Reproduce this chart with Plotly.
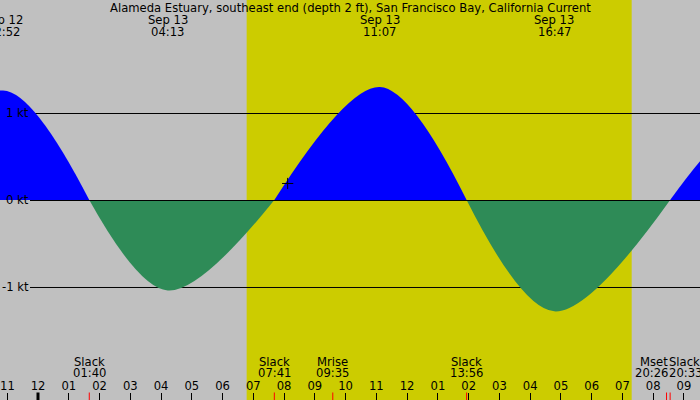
import plotly.graph_objects as go

# Alameda Estuary current, Sep 12-13 (times local)
x_start = "2024-09-12 22:45:53"
x_end = "2024-09-13 21:31:16"
sunrise = "2024-09-13 06:47"
sunset = "2024-09-13 19:18"
midnight = "2024-09-13 00:00"

# half-cycles (slack, max, slack), knots, flood positive
# first/last slack lie off the graph -> estimated
flood1_t = ["2024-09-12 19:40", "2024-09-12 22:52", "2024-09-13 01:40"]
flood1_kt = [0.0, 1.26, 0.0]
ebb1_t = ["2024-09-13 01:40", "2024-09-13 04:13", "2024-09-13 07:41"]
ebb1_kt = [0.0, -1.04, 0.0]
flood2_t = ["2024-09-13 07:41", "2024-09-13 11:07", "2024-09-13 13:56"]
flood2_kt = [0.0, 1.30, 0.0]
ebb2_t = ["2024-09-13 13:56", "2024-09-13 16:47", "2024-09-13 20:33"]
ebb2_kt = [0.0, -1.28, 0.0]
flood3_t = ["2024-09-13 20:33", "2024-09-13 23:35", "2024-09-14 02:30"]
flood3_kt = [0.0, 1.0, 0.0]

# max current labels at the top
max_t = ["2024-09-12 22:52", "2024-09-13 04:13", "2024-09-13 11:07", "2024-09-13 16:47"]
max_day = ["Sep 12", "Sep 13", "Sep 13", "Sep 13"]
max_lbl = ["22:52", "04:13", "11:07", "16:47"]

# events at the bottom
ev_t = ["2024-09-13 01:40", "2024-09-13 07:41", "2024-09-13 09:35", "2024-09-13 13:56",
        "2024-09-13 20:26", "2024-09-13 20:33"]
ev_name = ["Slack", "Slack", "Mrise", "Slack", "Mset", "Slack"]
ev_lbl = ["01:40", "07:41", "09:35", "13:56", "20:26", "20:33"]
ev_anchor = ["center", "center", "center", "center", "right", "left"]

levels = [1, 0, -1]
level_lbl = ["1 kt", "0 kt", "-1 kt"]

now_t = ["2024-09-13 08:07"]
now_kt = [0.19]

FONT = "DejaVu Sans"
FS = 11.6
GREY = "#c0c0c0"
DAY = "#cccc00"
FLOOD = "#0000ff"
EBB = "#2e8b57"

fig = go.Figure()

for t, v, c in [(flood1_t, flood1_kt, FLOOD), (ebb1_t, ebb1_kt, EBB), (flood2_t, flood2_kt, FLOOD),
                (ebb2_t, ebb2_kt, EBB), (flood3_t, flood3_kt, FLOOD)]:
    fig.add_trace(go.Scatter(x=t, y=v, mode="lines", fill="tozeroy", fillcolor=c,
                             line=dict(color=c, width=0, shape="spline", smoothing=1),
                             hoverinfo="skip", showlegend=False))

fig.add_trace(go.Scatter(x=now_t, y=now_kt, mode="markers", showlegend=False, hoverinfo="skip",
                         marker=dict(symbol="cross-thin", size=8, line=dict(color="black", width=1))))

shapes = [dict(type="rect", xref="x", yref="paper", x0=sunrise, x1=sunset, y0=0, y1=1,
               fillcolor=DAY, line_width=0, layer="below")]
for lv in levels:
    # half a pixel down so the 1px line sits on one pixel row
    shapes.append(dict(type="line", xref="paper", yref="y", x0=30 / 700, x1=1,
                       ysizemode="pixel", yanchor=lv, y0=-0.5, y1=-0.5,
                       line=dict(color="black", width=1), layer="below" if lv else "above"))
# midnight tick and event ticks
shapes.append(dict(type="line", xref="x", yref="paper", x0=midnight, x1=midnight, y0=0, y1=7.5 / 400,
                   line=dict(color="black", width=3)))
for t in ev_t:
    shapes.append(dict(type="line", xref="x", yref="paper", x0=t, x1=t, y0=0, y1=7.5 / 400,
                       line=dict(color="red", width=1)))

annos = [dict(text="Alameda Estuary, southeast end (depth 2 ft), San Francisco Bay, California Current",
              xref="paper", yref="paper", x=0.5, y=1 - 7.5 / 400, showarrow=False, yanchor="middle")]
for t, d, l in zip(max_t, max_day, max_lbl):
    annos.append(dict(text=d, x=t, xref="x", yref="paper", y=1 - 20 / 400, showarrow=False, yanchor="middle"))
    annos.append(dict(text=l, x=t, xref="x", yref="paper", y=1 - 32 / 400, showarrow=False, yanchor="middle"))
nudge = {"center": 0, "right": 3, "left": -3}
for t, n, l, a in zip(ev_t, ev_name, ev_lbl, ev_anchor):
    annos.append(dict(text=n, x=t, xref="x", yref="paper", y=1 - 361.5 / 400, showarrow=False,
                      yanchor="middle", xanchor=a, xshift=nudge[a]))
    annos.append(dict(text=l, x=t, xref="x", yref="paper", y=1 - 373 / 400, showarrow=False,
                      yanchor="middle", xanchor=a, xshift=nudge[a]))
for lv, l in zip(levels, level_lbl):
    annos.append(dict(text=l, x=28 / 700, xref="paper", y=lv, yref="y", showarrow=False,
                      xanchor="right", yanchor="middle", xshift=3))
# plotly hides the inside tick label at the very left edge, put it back
annos.append(dict(text="11", x="2024-09-12 23:00", xref="x", yref="paper", y=1 - 386 / 400,
                  showarrow=False, yanchor="middle"))

fig.update_layout(
    width=700, height=400, margin=dict(l=0, r=0, t=0, b=0),
    paper_bgcolor=GREY, plot_bgcolor=GREY,
    font=dict(family=FONT, size=FS, color="black"),
    shapes=shapes, annotations=annos,
    xaxis=dict(type="date", range=[x_start, x_end], dtick=3600000, tickformat="%I",
               ticks="inside", ticklen=7, tickcolor="black", tickwidth=1,
               tickfont=dict(family=FONT, size=FS, color="black"),
               ticklabelposition="inside", showgrid=False, zeroline=False, showline=False),
    yaxis=dict(range=[-2.299, 2.299], showgrid=False, zeroline=False, showticklabels=False),
)

fig.write_html("out.html", config={"displayModeBar": False},
               post_script="document.body.style.margin='0';")
